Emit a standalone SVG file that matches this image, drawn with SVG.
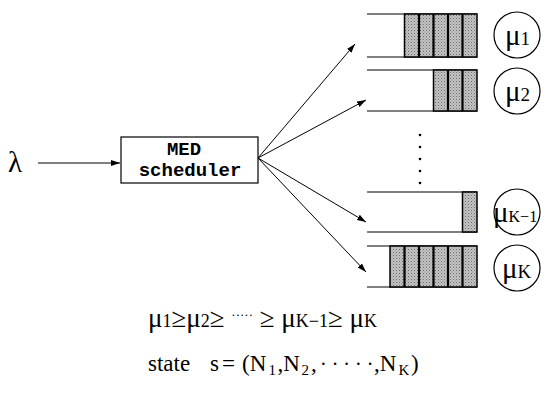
<svg xmlns="http://www.w3.org/2000/svg" width="552" height="402" viewBox="0 0 552 402">
<style>
.ln{stroke:#000;stroke-width:1.2;fill:none}
.cl{stroke:#000;stroke-width:1.2;fill:none}
.sh{fill:url(#dots);stroke:#000;stroke-width:1.5}
.dv{stroke:#000;stroke-width:2.2}
.mu{font-family:"Liberation Serif",serif;font-size:29px;fill:#000}
.sub{font-size:19px}
.mono{font-family:"Liberation Mono",monospace;font-weight:bold;font-size:19px;fill:#000}
.eq{font-family:"Liberation Serif",serif;font-size:23px;fill:#000}
.eq1{font-family:"Liberation Serif",serif;font-size:27px;fill:#000}
.s18{font-size:18px}
.s15{font-size:15px}
.con{stroke:#000;stroke-width:1;fill:none;marker-end:url(#ah)}
</style>
<defs>
<pattern id="dots" width="3" height="3" patternUnits="userSpaceOnUse">
<rect width="3" height="3" fill="#c4c4c4"/>
<rect width="1" height="1" fill="#6a6a6a"/>
<rect x="1.5" y="1.5" width="1" height="1" fill="#8a8a8a"/>
</pattern>
<marker id="ah" markerWidth="10" markerHeight="8" refX="9" refY="4" orient="auto" markerUnits="userSpaceOnUse">
<path d="M0,1 L9,4 L0,7 Z" fill="#000"/>
</marker>
</defs>

<g id="lambda">
<text x="8" y="172" class="mu">λ</text>
</g>

<g id="scheduler">
<rect x="121" y="137" width="137" height="46" fill="#fff" stroke="#000" stroke-width="1.2"/>
<text x="184" y="155" class="mono" text-anchor="middle">MED</text>
<text x="190" y="176" class="mono" text-anchor="middle">scheduler</text>
</g>

<g id="queue1">
<path class="ln" d="M367,14 H477 M367,57 H477"/>
<rect class="sh" x="404.5" y="14" width="72.5" height="43"/>
<path class="dv" d="M419,14 V57 M433.5,14 V57 M448,14 V57 M462.5,14 V57"/>
</g>
<g id="server1">
<circle class="cl" cx="517" cy="35" r="23"/>
<text x="505" y="45" class="mu">μ<tspan class="sub">1</tspan></text>
</g>

<g id="queue2">
<path class="ln" d="M367,70 H477 M367,111 H477"/>
<rect class="sh" x="433.5" y="70" width="43.5" height="41"/>
<path class="dv" d="M448,70 V111 M462.5,70 V111"/>
</g>
<g id="server2">
<circle class="cl" cx="517" cy="91" r="23"/>
<text x="505" y="101" class="mu">μ<tspan class="sub">2</tspan></text>
</g>

<g id="ellipsis">
<circle cx="420" cy="135" r="1.3" fill="#000"/>
<circle cx="420" cy="147" r="1.3" fill="#000"/>
<circle cx="420" cy="159" r="1.3" fill="#000"/>
<circle cx="420" cy="171" r="1.3" fill="#000"/>
<circle cx="420" cy="183" r="1.3" fill="#000"/>
</g>

<g id="queueK1">
<path class="ln" d="M367,192 H477 M367,232 H477"/>
<rect class="sh" x="462.5" y="192" width="14.5" height="40"/>
</g>
<g id="serverK1">
<circle class="cl" cx="517" cy="212" r="23"/>
<text x="493" y="222" class="mu">μ<tspan style="font-size:16px">K−1</tspan></text>
</g>

<g id="queueK">
<path class="ln" d="M367,246 H477 M367,287 H477"/>
<rect class="sh" x="390" y="246" width="87" height="41"/>
<path class="dv" d="M404.5,246 V287 M419,246 V287 M433.5,246 V287 M448,246 V287 M462.5,246 V287"/>
</g>
<g id="serverK">
<circle class="cl" cx="517" cy="268" r="23"/>
<text x="502" y="278" class="mu">μ<tspan class="sub">K</tspan></text>
</g>

<g id="connectors">
<line class="con" x1="38" y1="163" x2="120" y2="163"/>
<line class="con" x1="258" y1="158" x2="355" y2="44"/>
<line class="con" x1="258" y1="158" x2="366" y2="100"/>
<line class="con" x1="258" y1="158" x2="366" y2="222"/>
<line class="con" x1="258" y1="158" x2="366" y2="272"/>
</g>

<g id="formula">
<text x="148" y="327" class="eq1">μ<tspan class="s18">1</tspan>≥μ<tspan class="s18">2</tspan>≥ <tspan style="font-size:13px" dy="-8">·····</tspan><tspan dy="8"> ≥ μ</tspan><tspan class="s18">K−1</tspan>≥ μ<tspan class="s18">K</tspan></text>
<text y="371" class="eq"><tspan x="148">state</tspan><tspan x="210">s</tspan><tspan x="222">=</tspan><tspan x="242">(N</tspan><tspan x="268.5" dy="4" class="s15">1</tspan><tspan x="277.5" dy="-4">,N</tspan><tspan x="301.5" dy="4" class="s15">2</tspan><tspan x="311" dy="-4">,</tspan><tspan x="320" style="font-size:20px">· · · · ·</tspan><tspan x="374">,N</tspan><tspan x="398.5" dy="4" class="s15">K</tspan><tspan x="411" dy="-4">)</tspan></text>
</g>
</svg>
